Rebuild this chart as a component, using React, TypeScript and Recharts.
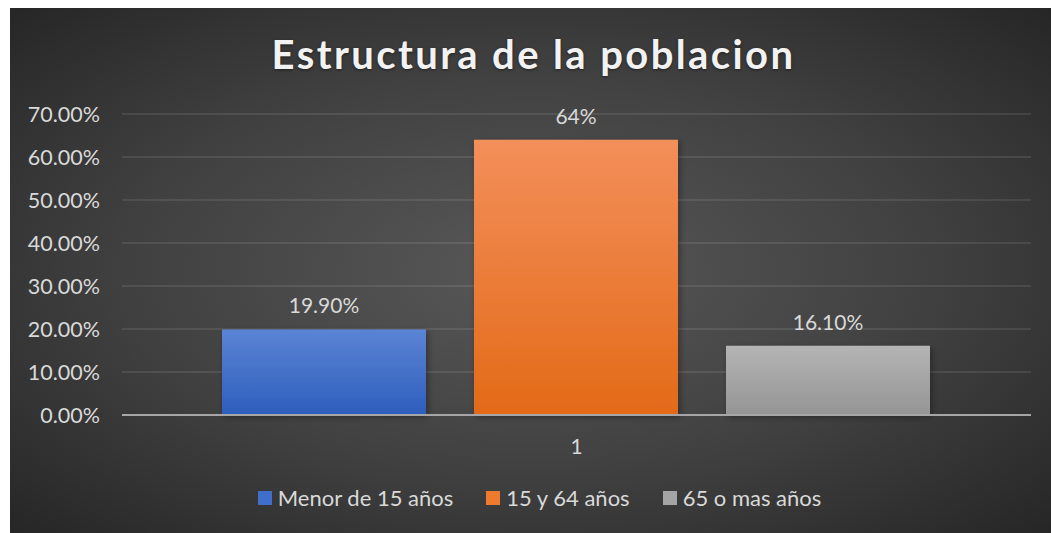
import { Bar, BarChart, CartesianGrid, LabelList, Legend, XAxis, YAxis } from "recharts";

document.documentElement.style.overflow = "hidden";
document.body.style.margin = "0";

const categories = ["1"];
const seriesNames = ["Menor de 15 años", "15 y 64 años", "65 o mas años"];
const seriesValues = [0.199, 0.64, 0.161];
const valueLabels = ["19.90%", "64%", "16.10%"];
const yTicks = [0, 0.1, 0.2, 0.3, 0.4, 0.5, 0.6, 0.7];

const keys = ["s0", "s1", "s2"];
const gradients = [
  ["#5b84d4", "#2d5ebd"],
  ["#f38f5a", "#e36a18"],
  ["#b4b4b4", "#959595"],
];
const swatch = ["#3f6fcb", "#ee7a30", "#a5a5a5"];

const data = categories.map((name) => {
  const row: Record<string, string | number> = { name };
  keys.forEach((k, i) => (row[k] = seriesValues[i]));
  return row;
});

const FONT = "Lato, 'Open Sans', sans-serif";
const TXT = "#d9d9d9";

function LegendBox() {
  return (
    <div style={{ display: "flex", justifyContent: "center", fontFamily: FONT, fontSize: 22, color: TXT }}>
      {seriesNames.map((n, i) => (
        <div key={n} style={{ display: "flex", alignItems: "center", marginRight: i < 2 ? 33 : 0 }}>
          <span style={{ width: 14, height: 14, background: swatch[i], marginRight: 6, display: "inline-block" }} />
          <span>{n}</span>
        </div>
      ))}
    </div>
  );
}

export default function App() {
  return (
    <div
      style={{
        position: "absolute",
        left: 10,
        top: 8,
        width: 1041,
        height: 525,
        background: "radial-gradient(ellipse at 50% 50%, #585858 0%, #404040 55%, #262626 100%)",
        fontFamily: FONT,
      }}
    >
      <div
        style={{
          position: "absolute",
          top: 22,
          left: 3,
          width: 1041,
          textAlign: "center",
          fontSize: 40,
          fontWeight: 700,
          letterSpacing: 2.4,
          color: "#f2f2f2",
          textShadow: "0 1px 3px rgba(0,0,0,0.5)",
        }}
      >
        Estructura de la poblacion
      </div>
      <BarChart
        width={1041}
        height={525}
        data={data}
        margin={{ top: 106, right: 20, bottom: 0, left: 0 }}
        barCategoryGap={100}
        barGap={48}
      >
        <defs>
          {gradients.map((g, i) => (
            <linearGradient key={i} id={`g${i}`} x1="0" y1="0" x2="0" y2="1">
              <stop offset="0%" stopColor={g[0]} />
              <stop offset="100%" stopColor={g[1]} />
            </linearGradient>
          ))}
          <filter id="sh" x="-10%" y="-10%" width="130%" height="130%">
            <feDropShadow dx="2" dy="2" stdDeviation="3" floodColor="#000" floodOpacity="0.35" />
          </filter>
        </defs>
        <CartesianGrid vertical={false} stroke="rgba(255,255,255,0.12)" strokeWidth={1.5} />
        <XAxis
          dataKey="name"
          height={118}
          axisLine={{ stroke: "#a6a6a6", strokeWidth: 2 }}
          tickLine={false}
          tickMargin={18}
          tick={{ fill: TXT, fontSize: 21, fontFamily: FONT }}
        />
        <YAxis
          width={112}
          domain={[0, 0.7]}
          ticks={yTicks}
          axisLine={false}
          tickLine={false}
          tickMargin={16}
          tickFormatter={(v: number) => `${(v * 100).toFixed(2)}%`}
          tick={{ fill: TXT, fontSize: 21.5, fontFamily: FONT }}
        />
        <Legend
          layout="horizontal"
          verticalAlign="middle"
          align="center"
          wrapperStyle={{ top: 476, left: 9, width: 1041 }}
          content={() => <LegendBox />}
        />
        {keys.map((k, i) => (
          <Bar
            key={k}
            dataKey={k}
            name={seriesNames[i]}
            fill={`url(#g${i})`}
            filter="url(#sh)"
            isAnimationActive={false}
          >
            <LabelList
              dataKey={k}
              position="top"
              offset={16}
              formatter={() => valueLabels[i]}
              style={{ fill: TXT, fontSize: 21, fontFamily: FONT }}
            />
          </Bar>
        ))}
      </BarChart>
    </div>
  );
}
